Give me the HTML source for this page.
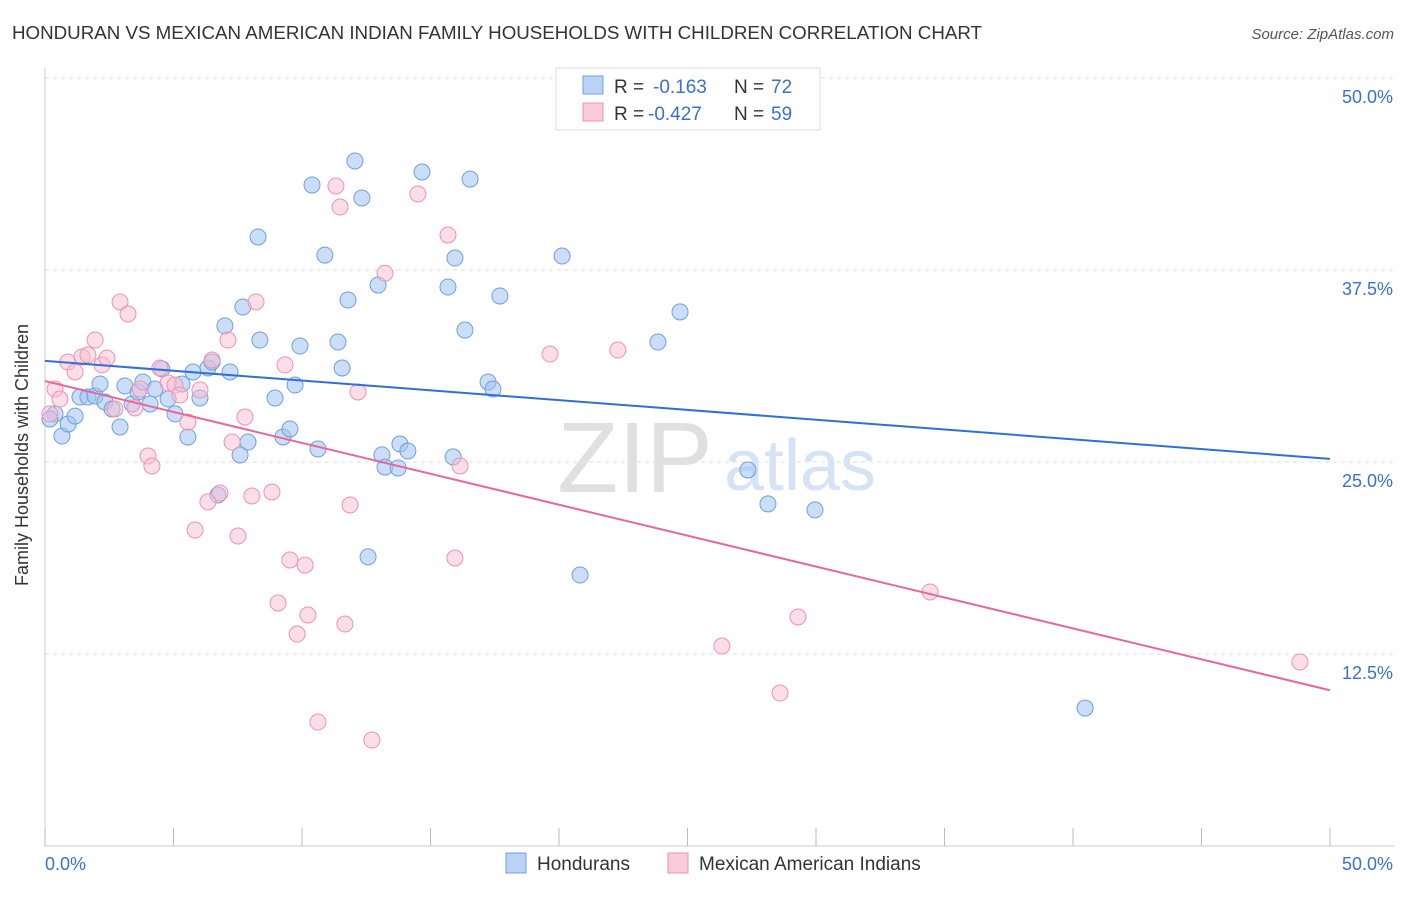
<!DOCTYPE html>
<html><head><meta charset="utf-8">
<style>
body{margin:0;background:#fff;font-family:"Liberation Sans",sans-serif;}
svg text{font-family:"Liberation Sans",sans-serif;}
</style></head>
<body>
<svg width="1406" height="892">
<text x="12" y="39" font-size="18" fill="#333" textLength="970" lengthAdjust="spacingAndGlyphs">HONDURAN VS MEXICAN AMERICAN INDIAN FAMILY HOUSEHOLDS WITH CHILDREN CORRELATION CHART</text>
<text x="1394" y="39" font-size="15" fill="#555" text-anchor="end" font-style="italic">Source: ZipAtlas.com</text>
<g id="grid"></g>
<text x="635" y="492" font-size="100" fill="#e0e0e0" font-family="Liberation Serif" text-anchor="middle">ZIP</text>
<text x="800" y="490" font-size="72" fill="#d5e3f5" text-anchor="middle">atlas</text>
<g id="pts"></g>
<g id="lines"></g>
<text x="28" y="455" font-size="18" fill="#333" transform="rotate(-90 28 455)" text-anchor="middle">Family Households with Children</text>
<g>
<rect x="556" y="68" width="264" height="62" fill="#fff" stroke="#ddd"/>
<rect x="583" y="76" width="20" height="18" fill="#b9d3f5" stroke="#6f9fe0"/>
<rect x="583" y="103" width="20" height="18" fill="#fbcbd9" stroke="#ee93b0"/>
<text x="614" y="93" font-size="19" fill="#333">R =</text>
<text x="653" y="93" font-size="19" fill="#3a70d0">-0.163</text>
<text x="734" y="93" font-size="19" fill="#333">N =</text>
<text x="771" y="93" font-size="19" fill="#3a70d0">72</text>
<text x="614" y="120" font-size="19" fill="#333">R =</text>
<text x="648" y="120" font-size="19" fill="#3a70d0">-0.427</text>
<text x="734" y="120" font-size="19" fill="#333">N =</text>
<text x="771" y="120" font-size="19" fill="#3a70d0">59</text>
</g>
<g>
<rect x="506" y="853" width="20" height="20" fill="#b9d3f5" stroke="#6f9fe0"/>
<text x="537" y="870" font-size="19" fill="#333">Hondurans</text>
<rect x="668" y="853" width="20" height="20" fill="#fbcbd9" stroke="#ee93b0"/>
<text x="699" y="870" font-size="19" fill="#333">Mexican American Indians</text>
</g>
</svg>
<script>
const xTicks=[0,5,10,15,20,25,30,35,40,45,50];
const yTicks=[12.5,25,37.5,50];
const yTickLabels=["12.5%","25.0%","37.5%","50.0%"];
const blueX=[0.39,0.66,0.9,1.17,1.36,1.67,1.95,2.14,2.33,2.61,2.92,3.11,3.39,3.62,3.81,4.09,4.28,4.55,4.79,5.06,5.33,5.56,5.76,6.03,6.34,6.5,6.73,7.0,7.2,7.59,7.7,7.9,8.29,8.36,8.95,9.26,9.53,9.73,9.92,10.39,10.62,10.89,11.4,11.56,11.79,12.06,12.33,12.57,12.96,13.11,13.23,13.74,13.81,14.12,14.67,15.68,15.88,15.95,16.34,16.54,17.24,17.43,17.7,20.12,20.82,23.85,24.71,27.35,28.13,29.96,40.47,0.19];
const blueY=[28.13,26.69,27.47,27.99,29.23,29.23,29.3,30.08,28.91,28.45,27.28,29.95,28.78,29.56,30.21,28.78,29.75,31.06,29.1,28.13,30.08,26.63,30.86,29.17,31.12,31.51,22.85,33.86,30.86,25.46,35.09,26.3,39.65,32.94,29.17,26.63,27.15,30.01,32.55,43.03,25.85,38.47,32.81,31.12,35.55,44.6,42.19,18.82,36.52,25.46,24.67,24.61,26.17,25.72,43.88,36.39,25.33,38.28,33.59,43.42,30.21,29.75,35.81,38.41,17.64,32.81,34.77,24.48,22.27,21.88,8.98,27.8];
const pinkX=[0.19,0.39,0.58,0.89,1.17,1.44,1.67,1.95,2.22,2.41,2.72,2.92,3.23,3.5,3.7,4.01,4.16,4.47,4.79,5.06,5.25,5.56,5.84,6.03,6.34,6.5,6.81,7.12,7.51,7.78,8.05,8.21,8.83,9.07,9.34,9.53,9.81,10.12,10.23,10.62,11.32,11.48,11.67,11.87,12.18,12.72,13.23,14.51,15.68,15.95,16.15,19.65,22.29,26.34,28.6,29.3,34.44,48.83,7.28];
const pinkY=[28.13,29.75,29.1,31.51,30.86,31.84,31.97,32.94,31.32,31.77,28.45,35.42,34.64,28.52,29.75,25.39,24.74,31.12,30.14,30.01,29.36,27.6,20.57,29.69,22.4,31.64,22.98,32.94,20.18,27.93,22.79,35.42,23.05,15.82,31.32,18.62,13.8,18.29,15.04,8.07,42.97,41.6,14.45,22.2,29.56,6.9,37.29,42.45,39.78,18.75,24.74,32.03,32.29,13.02,9.96,14.91,16.54,11.98,26.3];
const blueLine=[31.58,25.2];
const pinkLine=[30.27,10.14];
const X0=45,X1=1330,Y0=846,Y1=78;
const sx=v=>X0+v/50*(X1-X0);
const sy=v=>Y0-v/50*(Y0-Y1);
const NS="http://www.w3.org/2000/svg";
function mk(tag,attrs,parent,text){const e=document.createElementNS(NS,tag);for(const k in attrs)e.setAttribute(k,attrs[k]);if(text!==undefined)e.textContent=text;document.getElementById(parent).appendChild(e);return e;}
yTicks.forEach((t,i)=>{
 const g=mk("line",{x1:X0,x2:1394,y1:sy(t),y2:sy(t),stroke:"#ddd","stroke-dasharray":"4,4"},"grid");
 
 
 const l=mk("text",{x:1393,y:sy(t)+25,"font-size":18,fill:"#3a70d0","text-anchor":"end"},"grid",yTickLabels[i]);
 
 
});
const ax=mk("line",{x1:X0,x2:1394,y1:Y0,y2:Y0,stroke:"#ccc"},"grid");


const ay=mk("line",{x1:X0,x2:X0,y1:68,y2:Y0,stroke:"#ccc"},"grid");


xTicks.forEach(t=>{
 const k=mk("line",{x1:sx(t),x2:sx(t),y1:Y0,y2:828,stroke:"#bbb"},"grid");
 
 
});
const xl0=mk("text",{x:45,y:870,"font-size":18,fill:"#3a70d0"},"grid","0.0%");


const xl1=mk("text",{x:1393,y:870,"font-size":18,fill:"#3a70d0","text-anchor":"end"},"grid","50.0%");


blueX.forEach((x,i)=>{
 const c=mk("circle",{cx:sx(x),cy:sy(blueY[i]),r:8,fill:"rgba(160,195,240,0.55)",stroke:"#6f9fe0","stroke-width":1},"pts");
 
 
});
pinkX.forEach((x,i)=>{
 const c=mk("circle",{cx:sx(x),cy:sy(pinkY[i]),r:8,fill:"rgba(250,190,210,0.5)",stroke:"#ee93b0","stroke-width":1},"pts");
 
 
});
const bl=mk("line",{x1:sx(0),y1:sy(blueLine[0]),x2:sx(50),y2:sy(blueLine[1]),stroke:"#2f6fd6","stroke-width":2},"lines");


const pl=mk("line",{x1:sx(0),y1:sy(pinkLine[0]),x2:sx(50),y2:sy(pinkLine[1]),stroke:"#e8679a","stroke-width":2},"lines");


</script>
</body></html>
